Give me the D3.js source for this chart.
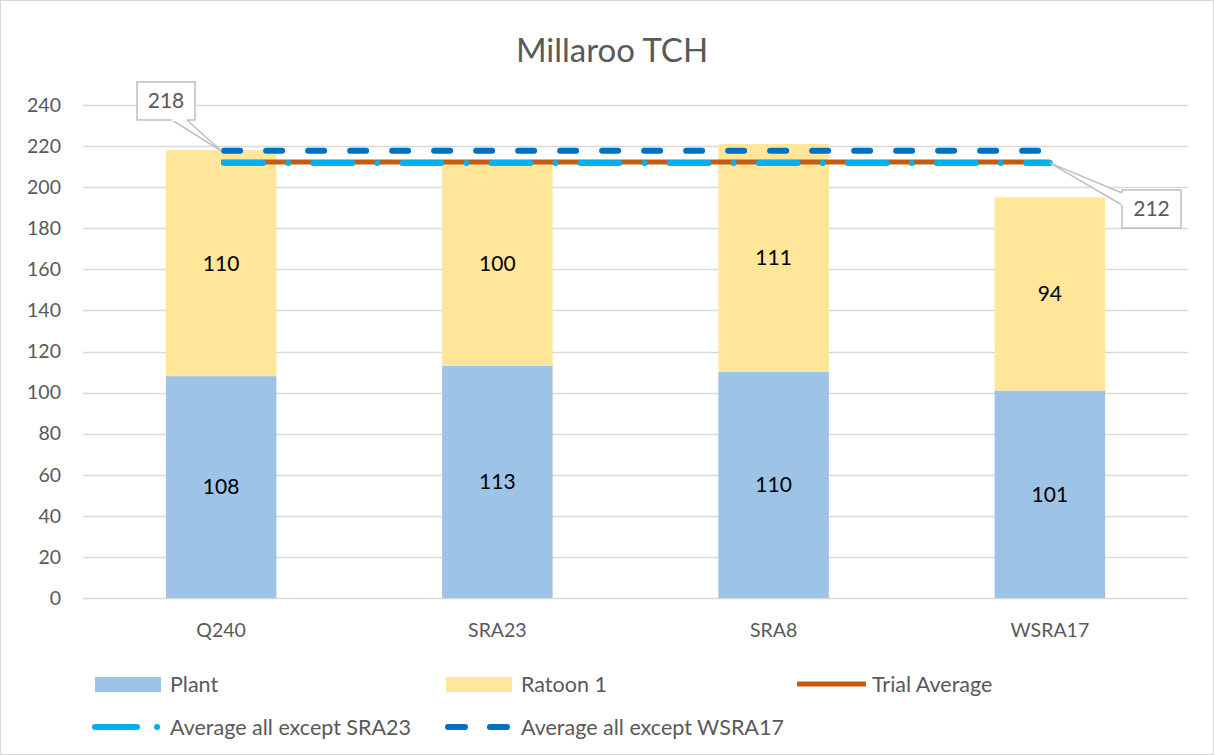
<!DOCTYPE html>
<html lang="en">
<head>
<meta charset="utf-8">
<title>Millaroo TCH</title>
<script src="https://d3js.org/d3.v7.min.js"></script>
<style>
  body { margin: 0; background: #fff; }
  text { font-family: Lato, "Open Sans", sans-serif; fill: #595959; }
</style>
</head>
<body>
<div id="chart"></div>
<script>
// data
var varieties = ["Q240", "SRA23", "SRA8", "WSRA17"];
var plant = [108, 113, 110, 101];
var ratoon1 = [110, 100, 111, 94];
var trialAverage = 212.2;
var avgExceptSRA23 = 211.8;
var avgExceptWSRA17 = 217.7;
var yTicks = [0, 20, 40, 60, 80, 100, 120, 140, 160, 180, 200, 220, 240];

var W = 1214, H = 755;
var svg = d3.select("#chart").append("svg")
  .attr("width", W).attr("height", H);

// chart border
svg.append("rect")
  .attr("x", 0.5).attr("y", 0.5)
  .attr("width", W - 1).attr("height", H - 1)
  .attr("fill", "#fff").attr("stroke", "#d9d9d9");

// scales
var x = d3.scaleBand().domain(varieties).range([83, 1188])
  .paddingInner(0.6).paddingOuter(0.3);
var y = d3.scaleLinear().domain([0, 240]).range([598, 105]);

// title
svg.append("text")
  .attr("x", 612).attr("y", 62)
  .attr("text-anchor", "middle")
  .style("font-size", "33px")
  .text("Millaroo TCH");

// gridlines + y labels
svg.append("g").selectAll("line").data(yTicks).enter().append("line")
  .attr("x1", 83).attr("x2", 1188)
  .attr("y1", function(d){ return Math.round(y(d)) + 0.5; })
  .attr("y2", function(d){ return Math.round(y(d)) + 0.5; })
  .attr("stroke", "#d9d9d9").attr("stroke-width", 1.3);

svg.append("g").selectAll("text").data(yTicks).enter().append("text")
  .attr("x", 61)
  .attr("y", function(d){ return y(d); })
  .attr("dy", "0.35em")
  .attr("text-anchor", "end")
  .style("font-size", "19.5px")
  .text(function(d){ return d; });

// x labels
svg.append("g").selectAll("text").data(varieties).enter().append("text")
  .attr("x", function(d){ return x(d) + x.bandwidth() / 2; })
  .attr("y", 637)
  .attr("text-anchor", "middle")
  .style("font-size", "19.5px")
  .text(function(d){ return d; });

// stacked bars
var rows = varieties.map(function(v, i){ return { v: v, plant: plant[i], ratoon: ratoon1[i] }; });

svg.append("g").selectAll("rect").data(rows).enter().append("rect")
  .attr("x", function(d){ return x(d.v); })
  .attr("width", x.bandwidth())
  .attr("y", function(d){ return y(d.plant); })
  .attr("height", function(d){ return y(0) - y(d.plant); })
  .attr("fill", "#9dc3e6");

svg.append("g").selectAll("rect").data(rows).enter().append("rect")
  .attr("x", function(d){ return x(d.v); })
  .attr("width", x.bandwidth())
  .attr("y", function(d){ return y(d.plant + d.ratoon); })
  .attr("height", function(d){ return y(d.plant) - y(d.plant + d.ratoon); })
  .attr("fill", "#ffe699");

// data labels
svg.append("g").selectAll("text").data(rows).enter().append("text")
  .attr("x", function(d){ return x(d.v) + x.bandwidth() / 2; })
  .attr("y", function(d){ return y(d.plant / 2); })
  .attr("dy", "0.35em").attr("text-anchor", "middle")
  .style("font-size", "21px").style("fill", "#000")
  .text(function(d){ return d.plant; });

svg.append("g").selectAll("text").data(rows).enter().append("text")
  .attr("x", function(d){ return x(d.v) + x.bandwidth() / 2; })
  .attr("y", function(d){ return y(d.plant + d.ratoon / 2); })
  .attr("dy", "0.35em").attr("text-anchor", "middle")
  .style("font-size", "21px").style("fill", "#000")
  .text(function(d){ return d.ratoon; });

// average lines
var x0 = x(varieties[0]) + x.bandwidth() / 2;
var x1 = x(varieties[varieties.length - 1]) + x.bandwidth() / 2;

svg.append("line")
  .attr("x1", x0).attr("x2", x1)
  .attr("y1", y(trialAverage)).attr("y2", y(trialAverage))
  .attr("stroke", "#c55a11").attr("stroke-width", 5);

svg.append("line")
  .attr("x1", x0 + 3).attr("x2", x1)
  .attr("y1", y(avgExceptSRA23)).attr("y2", y(avgExceptSRA23))
  .attr("stroke", "#00b0f0").attr("stroke-width", 6)
  .attr("stroke-linecap", "round")
  .attr("stroke-dasharray", "39 25 0.1 25");

svg.append("line")
  .attr("x1", x0 + 3).attr("x2", x1)
  .attr("y1", y(avgExceptWSRA17)).attr("y2", y(avgExceptWSRA17))
  .attr("stroke", "#0070c0").attr("stroke-width", 6)
  .attr("stroke-linecap", "round")
  .attr("stroke-dasharray", "16 26");

// callouts
function callout(bx, by, bw, bh, points, label) {
  var g = svg.append("g");
  g.append("path")
    .attr("d", d3.line()(points))
    .attr("fill", "#fff").attr("stroke", "#bfbfbf").attr("stroke-width", 1.5);
  g.append("rect")
    .attr("x", bx).attr("y", by).attr("width", bw).attr("height", bh)
    .attr("fill", "#fff").attr("stroke", "#bfbfbf").attr("stroke-width", 1.5);
  // hide the box edge under the wedge base
  g.append("path")
    .attr("d", d3.line()(points.slice(0, 1).concat(points.slice(2))))
    .attr("fill", "none").attr("stroke", "#fff").attr("stroke-width", 2);
  g.append("text")
    .attr("x", bx + bw / 2).attr("y", by + bh / 2)
    .attr("dy", "0.35em").attr("text-anchor", "middle")
    .style("font-size", "21px")
    .text(label);
}

callout(137, 82, 58, 38,
  [[172, 120], [x0, y(avgExceptWSRA17)], [187, 120]],
  Math.round(avgExceptWSRA17));
callout(1122, 190, 59, 38,
  [[1122, 193], [x1, y(avgExceptSRA23)], [1122, 205]],
  Math.round(avgExceptSRA23));

// legend
var leg = svg.append("g");
var row1 = 684, row2 = 727;
leg.append("rect").attr("x", 95).attr("y", row1 - 7).attr("width", 66).attr("height", 15).attr("fill", "#9dc3e6");
leg.append("text").attr("x", 170).attr("y", row1).attr("dy", "0.35em").style("font-size", "21.5px").text("Plant");
leg.append("rect").attr("x", 446).attr("y", row1 - 7).attr("width", 66).attr("height", 15).attr("fill", "#ffe699");
leg.append("text").attr("x", 521).attr("y", row1).attr("dy", "0.35em").style("font-size", "21.5px").text("Ratoon 1");
leg.append("line").attr("x1", 797).attr("x2", 866).attr("y1", row1).attr("y2", row1)
  .attr("stroke", "#c55a11").attr("stroke-width", 5);
leg.append("text").attr("x", 872).attr("y", row1).attr("dy", "0.35em").style("font-size", "21.5px").text("Trial Average");

leg.append("line").attr("x1", 95).attr("x2", 163).attr("y1", row2).attr("y2", row2)
  .attr("stroke", "#00b0f0").attr("stroke-width", 6).attr("stroke-linecap", "round")
  .attr("stroke-dasharray", "42 20 0.1 30");
leg.append("text").attr("x", 170).attr("y", row2).attr("dy", "0.35em").style("font-size", "21.5px").text("Average all except SRA23");
leg.append("line").attr("x1", 448).attr("x2", 510).attr("y1", row2).attr("y2", row2)
  .attr("stroke", "#0070c0").attr("stroke-width", 6).attr("stroke-linecap", "round")
  .attr("stroke-dasharray", "17 25");
leg.append("text").attr("x", 521).attr("y", row2).attr("dy", "0.35em").style("font-size", "21.5px").text("Average all except WSRA17");
</script>
</body>
</html>
